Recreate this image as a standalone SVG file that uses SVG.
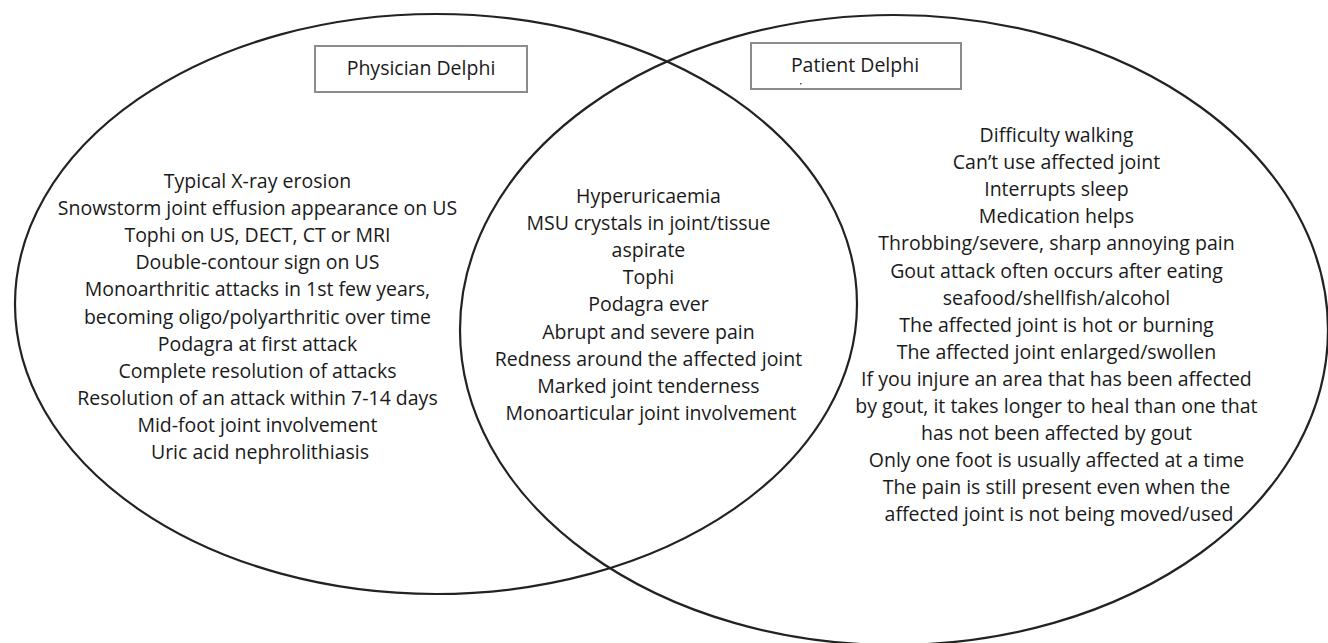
<svg xmlns="http://www.w3.org/2000/svg" width="1328" height="643" viewBox="0 0 1328 643">
<style>
.ell{fill:none;stroke:#222;stroke-width:2.2}
.box{fill:#fff;stroke:#8c8c8c;stroke-width:2}
.t{font-family:"Open Sans","Liberation Sans",sans-serif;font-size:19.5px;fill:#1a1a1a;text-anchor:middle}
</style>
<rect width="1328" height="643" fill="#fff"/>
<g id="connectors">
<ellipse id="physician-circle" class="ell" cx="436" cy="304" rx="421" ry="290"/>
<ellipse id="patient-circle" class="ell" cx="894" cy="330" rx="434" ry="315"/>
</g>
<g id="physician-label">
<rect class="box" x="315" y="46" width="212" height="46"/>
<text class="t" x="421" y="75">Physician Delphi</text>
</g>
<g id="patient-label">
<rect class="box" x="751" y="43" width="210" height="46"/>
<text class="t" x="855" y="72">Patient Delphi</text>
<rect x="800" y="83" width="1.5" height="1.5" fill="#555"/>
</g>
<g id="physician-only">
<text class="t" y="188">
<tspan x="260">Typical X-ray erosion</tspan>
<tspan x="260" dy="27.1">Snowstorm joint effusion appearance on US</tspan>
<tspan x="260" dy="27.1">Tophi on US, DECT, CT or MRI</tspan>
<tspan x="260" dy="27.1">Double-contour sign on US</tspan>
<tspan x="260" dy="27.1">Monoarthritic attacks in 1st few years,</tspan>
<tspan x="260" dy="27.1">becoming oligo/polyarthritic over time</tspan>
<tspan x="260" dy="27.1">Podagra at first attack</tspan>
<tspan x="260" dy="27.1">Complete resolution of attacks</tspan>
<tspan x="260" dy="27.1">Resolution of an attack within 7-14 days</tspan>
<tspan x="260" dy="27.1">Mid-foot joint involvement</tspan>
<tspan x="260" dy="27.1">Uric acid nephrolithiasis</tspan>
</text>
</g>
<g id="shared">
<text class="t" y="203">
<tspan x="651">Hyperuricaemia</tspan>
<tspan x="651" dy="27.1">MSU crystals in joint/tissue</tspan>
<tspan x="651" dy="27.1">aspirate</tspan>
<tspan x="651" dy="27.1">Tophi</tspan>
<tspan x="651" dy="27.1">Podagra ever</tspan>
<tspan x="651" dy="27.1">Abrupt and severe pain</tspan>
<tspan x="651" dy="27.1">Redness around the affected joint</tspan>
<tspan x="651" dy="27.1">Marked joint tenderness</tspan>
<tspan x="651" dy="27.1">Monoarticular joint involvement</tspan>
</text>
</g>
<g id="patient-only">
<text class="t" y="142">
<tspan x="1059">Difficulty walking</tspan>
<tspan x="1059" dy="27.1">Can’t use affected joint</tspan>
<tspan x="1059" dy="27.1">Interrupts sleep</tspan>
<tspan x="1059" dy="27.1">Medication helps</tspan>
<tspan x="1059" dy="27.1">Throbbing/severe, sharp annoying pain</tspan>
<tspan x="1059" dy="27.1">Gout attack often occurs after eating</tspan>
<tspan x="1059" dy="27.1">seafood/shellfish/alcohol</tspan>
<tspan x="1059" dy="27.1">The affected joint is hot or burning</tspan>
<tspan x="1059" dy="27.1">The affected joint enlarged/swollen</tspan>
<tspan x="1059" dy="27.1">If you injure an area that has been affected</tspan>
<tspan x="1059" dy="27.1">by gout, it takes longer to heal than one that</tspan>
<tspan x="1059" dy="27.1">has not been affected by gout</tspan>
<tspan x="1059" dy="27.1">Only one foot is usually affected at a time</tspan>
<tspan x="1059" dy="27.1">The pain is still present even when the</tspan>
<tspan x="1059" dy="27.1">affected joint is not being moved/used</tspan>
</text>
</g>
</svg>
